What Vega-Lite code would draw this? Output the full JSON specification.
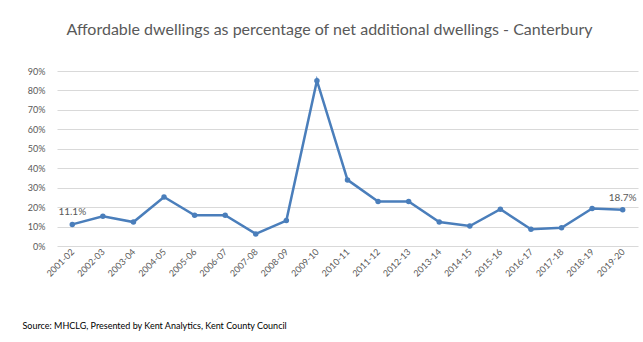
{
  "$schema": "https://vega.github.io/schema/vega-lite/v6.json",
  "autosize": "none",
  "width": 581,
  "height": 175,
  "padding": {"left": 57, "top": 71, "right": 5, "bottom": 96},
  "background": "white",
  "config": {
    "font": "Lato",
    "view": {"stroke": null}
  },
  "title": {
    "text": "Affordable dwellings as percentage of net additional dwellings - Canterbury",
    "fontSize": 16,
    "fontWeight": "normal",
    "color": "#595959",
    "font": "Lato",
    "anchor": "middle",
    "dx": -18,
    "offset": 29
  },
  "data": {
    "values": [
      {"year": "2001-02", "pct": 0.111},
      {"year": "2002-03", "pct": 0.153},
      {"year": "2003-04", "pct": 0.123},
      {"year": "2004-05", "pct": 0.252},
      {"year": "2005-06", "pct": 0.158},
      {"year": "2006-07", "pct": 0.158},
      {"year": "2007-08", "pct": 0.062},
      {"year": "2008-09", "pct": 0.131},
      {"year": "2009-10", "pct": 0.85},
      {"year": "2010-11", "pct": 0.34},
      {"year": "2011-12", "pct": 0.229},
      {"year": "2012-13", "pct": 0.229},
      {"year": "2013-14", "pct": 0.123},
      {"year": "2014-15", "pct": 0.103},
      {"year": "2015-16", "pct": 0.189},
      {"year": "2016-17", "pct": 0.086},
      {"year": "2017-18", "pct": 0.094},
      {"year": "2018-19", "pct": 0.193},
      {"year": "2019-20", "pct": 0.187}
    ]
  },
  "encoding": {
    "x": {
      "field": "year",
      "type": "ordinal",
      "sort": null,
      "scale": {"type": "point", "padding": 0.5},
      "axis": {
        "title": "Source: MHCLG, Presented by Kent Analytics, Kent County Council",
        "titleFont": "Lato",
        "titleFontSize": 9,
        "titleFontWeight": "normal",
        "titleColor": "#000000",
        "titleAnchor": "start",
        "titleAlign": "left",
        "titleBaseline": "middle",
        "titleX": -35,
        "titleY": 79,
        "labelAngle": -45,
        "labelAlign": "right",
        "labelBaseline": "middle",
        "labelFontSize": 9,
        "labelColor": "#595959",
        "labelPadding": 4,
        "ticks": false,
        "domain": false,
        "grid": false
      }
    },
    "y": {
      "field": "pct",
      "type": "quantitative",
      "scale": {"domain": [0, 0.9], "nice": false},
      "axis": {
        "title": null,
        "format": ".0%",
        "values": [0, 0.1, 0.2, 0.3, 0.4, 0.5, 0.6, 0.7, 0.8, 0.9],
        "labelFontSize": 9,
        "labelColor": "#595959",
        "labelPadding": 12,
        "ticks": false,
        "domain": false,
        "gridColor": "#d9d9d9",
        "gridWidth": 1
      }
    }
  },
  "layer": [
    {
      "mark": {"type": "line", "color": "#4A7EBB", "strokeWidth": 2.5, "point": {"filled": true, "size": 30, "color": "#4A7EBB"}}
    },
    {
      "transform": [{"filter": "datum.year == '2001-02' || datum.year == '2019-20'"}],
      "mark": {"type": "text", "dy": -12, "fontSize": 10, "color": "#595959", "font": "Lato"},
      "encoding": {
        "text": {"field": "pct", "type": "quantitative", "format": ".1%"}
      }
    }
  ]
}
